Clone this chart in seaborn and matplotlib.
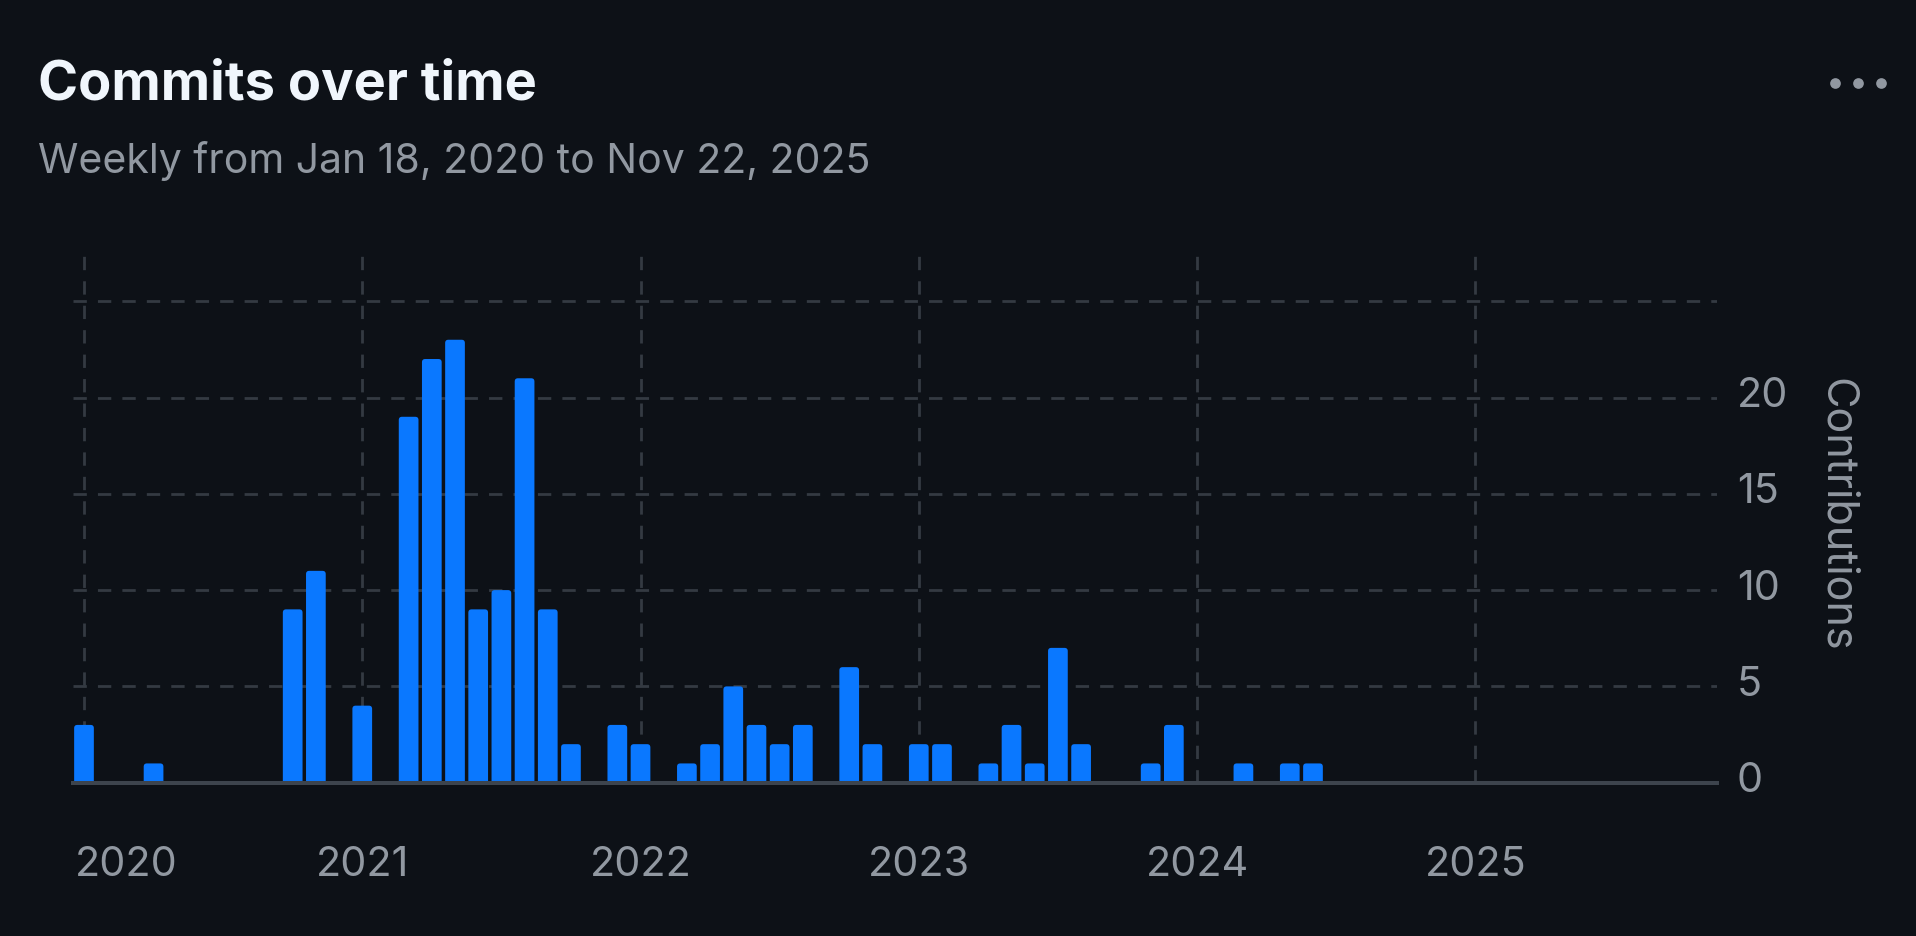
import numpy as np
import pandas as pd
import matplotlib.pyplot as plt
import seaborn as sns
from matplotlib.lines import Line2D
from matplotlib.patches import FancyBboxPatch

# Monthly commit counts (months without commits are left out)
months = ["2020-01", "2020-04", "2020-10", "2020-11", "2021-01", "2021-03",
          "2021-04", "2021-05", "2021-06", "2021-07", "2021-08", "2021-09",
          "2021-10", "2021-12", "2022-01", "2022-03", "2022-04", "2022-05",
          "2022-06", "2022-07", "2022-08", "2022-10", "2022-11", "2023-01",
          "2023-02", "2023-04", "2023-05", "2023-06", "2023-07", "2023-08",
          "2023-11", "2023-12", "2024-03", "2024-05", "2024-06"]
commits = [3, 1, 9, 11, 4, 19,
           22, 23, 9, 10, 21, 9,
           2, 3, 2, 1, 2, 5,
           3, 2, 3, 6, 2, 2,
           2, 1, 3, 1, 7, 2,
           1, 3, 1, 1, 1]

years = [2020, 2021, 2022, 2023, 2024, 2025]
y_ticks = [0, 5, 10, 15, 20, 25]
y_tick_labels = ["0", "5", "10", "15", "20", ""]

title = "Commits over time"
subtitle = "Weekly from Jan 18, 2020 to Nov 22, 2025"
y_title = "Contributions"

# colours
BG = "#0d1117"
BLUE = "#0a78ff"
GRID = "#343a42"
AXIS = "#3d444d"
MUTED = "#9198a1"
WHITE = "#f0f6fc"

sns.set_theme(style="dark")
plt.rcParams["font.family"] = ["Inter", "DejaVu Sans"]

# month index from Jan 2020, bars sit centred on the first of each month
df = pd.DataFrame({"month": pd.to_datetime(months), "commits": commits})
df["idx"] = (df["month"].dt.year - years[0]) * 12 + (df["month"].dt.month - 1)
year_pos = [(y - years[0]) * 12 for y in years]

fig = plt.figure(figsize=(19.16, 9.36), dpi=100, facecolor=BG)
ax = fig.add_axes([0.0381, 0.1638, 0.8580, 0.5691])
ax.set_facecolor(BG)

sns.barplot(data=df, x="idx", y="commits", native_scale=True, width=0.85,
            color=BLUE, saturation=1, errorbar=None, linewidth=0, ax=ax)

ax.set_xlim(-0.474, 70.42)
ax.set_ylim(0, 27.66)
ax.set_xticks(year_pos)
ax.set_yticks(y_ticks)
ax.set_axisbelow(True)
ax.grid(True, color=GRID, linewidth=2.0, linestyle=(0, (4.8, 4.0)))
ax.tick_params(length=0, labelbottom=False, labelleft=False)
ax.set_xlabel("")
ax.set_ylabel("")

for side in ["top", "left", "right"]:
    ax.spines[side].set_visible(False)
ax.spines["bottom"].set_color(AXIS)
ax.spines["bottom"].set_linewidth(2.9)
ax.spines["bottom"].set_zorder(5)

# give the bars slightly rounded tops (radius about 3 px)
p0 = ax.transData.transform((0, 0))
p1 = ax.transData.transform((1, 1))
px_x, px_y = p1[0] - p0[0], p1[1] - p0[1]
rx = 3.2 / px_x
ry = 3.2 / px_y
for bar in list(ax.patches):
    x, w, h = bar.get_x(), bar.get_width(), bar.get_height()
    ax.add_patch(FancyBboxPatch((x, -ry), w, h + ry,
                                boxstyle=f"round,pad=0,rounding_size={rx}",
                                mutation_aspect=ry / rx, facecolor=BLUE,
                                linewidth=0, zorder=bar.get_zorder()))
    bar.remove()

# year labels under the axis, first one kept inside the plot edge
for i, (yr, pos) in enumerate(zip(years, year_pos)):
    if i == 0:
        ax.annotate(str(yr), xy=(ax.get_xlim()[0], 0), xytext=(1, -67),
                    textcoords="offset points", ha="left", va="baseline",
                    color=MUTED, fontsize=29.7)
    else:
        ax.annotate(str(yr), xy=(pos, 0), xytext=(0, -67),
                    textcoords="offset points", ha="center", va="baseline",
                    color=MUTED, fontsize=29.7)

# value labels on the right
for v, lab in zip(y_ticks, y_tick_labels):
    ax.annotate(lab, xy=(1, v), xycoords=("axes fraction", "data"),
                xytext=(14.4, -6.8), textcoords="offset points",
                ha="left", va="baseline", color=MUTED, fontsize=29.7)

fig.text(0.9585, 0.4503, y_title, rotation=270, ha="center", va="center",
         color=MUTED, fontsize=31)

fig.text(0.0198, 0.8932, title, ha="left", va="baseline", color=WHITE,
         fontsize=39, fontweight="bold")
fig.text(0.0198, 0.8149, subtitle, ha="left", va="baseline", color=MUTED,
         fontsize=29.5)

# the "more" menu dots in the corner
fig.add_artist(Line2D([1835.3 / 1916, 1858 / 1916, 1880.7 / 1916],
                      [0.911, 0.911, 0.911], transform=fig.transFigure,
                      marker="o", linestyle="none", markersize=7.7,
                      markerfacecolor=MUTED, markeredgewidth=0))

fig.savefig("out.png", dpi=100, facecolor=BG)
